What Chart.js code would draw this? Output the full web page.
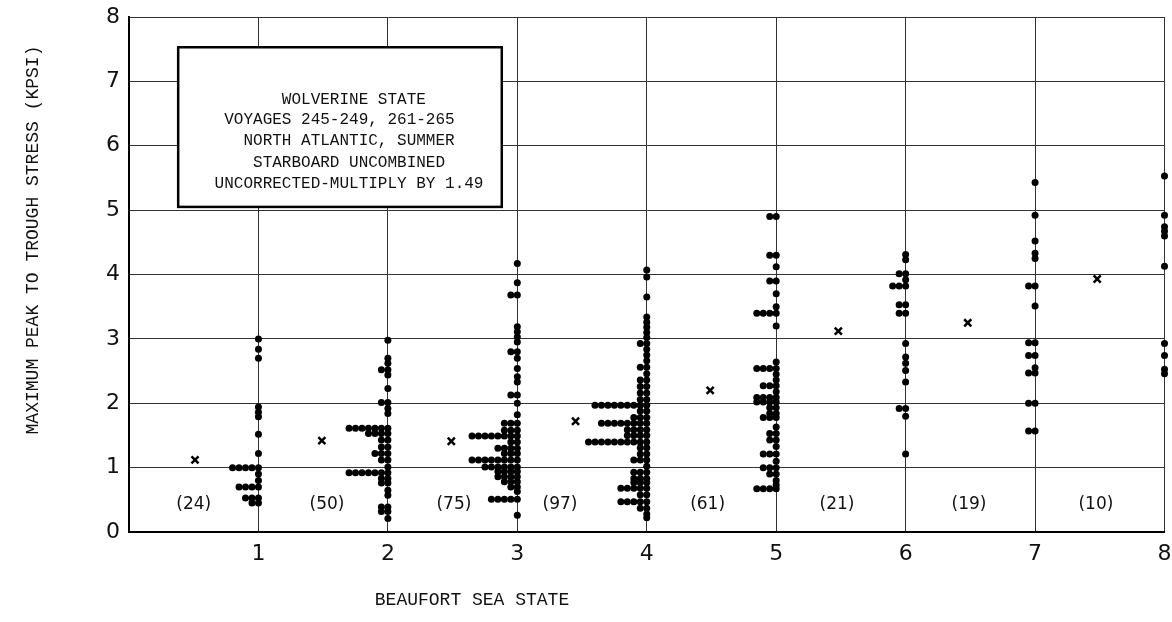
<!DOCTYPE html>
<html><head><meta charset="utf-8">
<script src="https://cdn.jsdelivr.net/npm/chart.js@4.4.1/dist/chart.umd.min.js"></script>
<style>html,body{margin:0;padding:0;background:#fff;}#wrap{width:1172px;height:622px;}</style>
</head><body><div id="wrap"><canvas id="c" width="1172" height="622"></canvas></div>
<script>
// ---- data ----
const seaStates = [1, 2, 3, 4, 5, 6, 7, 8];
const sampleCounts = [24, 50, 75, 97, 61, 21, 19, 10];

const state1Stress = [3.0, 2.84, 2.7, 1.94, 1.86, 1.79, 1.52, 1.22, 1.0, 0.9, 0.8, 0.7, 0.53, 0.45];
const state1Count  = [1, 1, 1, 1, 1, 1, 1, 1, 5, 1, 1, 4, 3, 2];

const state2Stress = [2.98, 2.70, 2.62, 2.52, 2.44, 2.23, 2.01, 1.92, 1.84, 1.61, 1.53, 1.43, 1.32, 1.22, 1.12, 1.01, 0.92, 0.83, 0.76, 0.65, 0.57, 0.39, 0.32, 0.21];
const state2Count  = [1, 1, 1, 2, 1, 1, 2, 1, 1, 7, 4, 2, 2, 3, 2, 1, 7, 2, 2, 1, 1, 2, 2, 1];

const state3Stress = [4.17, 3.87, 3.68, 3.19, 3.11, 3.03, 2.95, 2.80, 2.70, 2.54, 2.41, 2.33, 2.13, 2.0, 1.82, 1.69, 1.58, 1.49, 1.40, 1.30, 1.22, 1.12, 1.01, 0.94, 0.86, 0.78, 0.70, 0.63, 0.51, 0.26];
const state3Count  = [1, 1, 2, 1, 1, 1, 1, 2, 1, 1, 1, 1, 2, 1, 1, 3, 3, 8, 2, 4, 3, 8, 6, 4, 4, 3, 2, 1, 5, 1];

const state4Stress = [4.07, 3.96, 3.65, 3.34, 3.26, 3.18, 3.10, 3.02, 2.93, 2.84, 2.75, 2.66, 2.56, 2.46, 2.36, 2.26, 2.16, 2.06, 1.97, 1.88, 1.78, 1.69, 1.59, 1.50, 1.40, 1.31, 1.21, 1.12, 1.02, 0.93, 0.83, 0.77, 0.68, 0.58, 0.47, 0.37, 0.28, 0.22];
const state4Count  = [1, 1, 1, 1, 1, 1, 1, 1, 2, 1, 1, 1, 2, 1, 2, 2, 2, 2, 9, 2, 3, 8, 4, 4, 10, 2, 2, 3, 1, 3, 3, 3, 5, 2, 5, 2, 1, 1];

const state5Stress = [4.9, 4.3, 4.12, 3.9, 3.7, 3.5, 3.4, 3.2, 2.64, 2.54, 2.45, 2.36, 2.27, 2.18, 2.09, 2.02, 1.93, 1.84, 1.78, 1.63, 1.53, 1.43, 1.33, 1.21, 1.1, 1.0, 0.9, 0.8, 0.73, 0.67];
const state5Count  = [2, 2, 1, 2, 1, 1, 4, 1, 1, 4, 1, 1, 3, 1, 4, 4, 2, 2, 3, 1, 2, 2, 1, 3, 1, 3, 2, 1, 1, 4];

const state6Stress = [4.31, 4.23, 4.01, 3.92, 3.82, 3.53, 3.40, 2.93, 2.72, 2.62, 2.51, 2.33, 1.92, 1.80, 1.21];
const state6Count  = [1, 1, 2, 1, 3, 2, 2, 1, 1, 1, 1, 1, 2, 1, 1];

const state7Stress = [5.43, 4.92, 4.52, 4.33, 4.25, 3.82, 3.51, 2.94, 2.74, 2.55, 2.47, 2.0, 1.57];
const state7Count  = [1, 1, 1, 1, 1, 2, 1, 2, 2, 1, 2, 2, 2];

const state8Stress = [5.53, 4.92, 4.74, 4.67, 4.60, 4.13, 2.93, 2.74, 2.53, 2.46];
const state8Count  = [1, 1, 1, 1, 1, 1, 1, 1, 1, 1];

const meanX      = [0.51, 1.49, 2.49, 3.45, 4.49, 5.48, 6.48, 7.48];
const meanStress = [1.12, 1.42, 1.41, 1.72, 2.20, 3.12, 3.25, 3.93];

const countLabelX = [0.50, 1.53, 2.51, 3.33, 4.47, 5.47, 6.49, 7.47];
const countLabelY = 0.42;

const xTickValues = [0, 1, 2, 3, 4, 5, 6, 7, 8];
const yTickValues = [0, 1, 2, 3, 4, 5, 6, 7, 8];

const boxLines = ['WOLVERINE STATE', 'VOYAGES 245-249, 261-265', 'NORTH ATLANTIC, SUMMER', 'STARBOARD UNCOMBINED', 'UNCORRECTED-MULTIPLY BY 1.49'];
const xTitle = 'BEAUFORT SEA STATE';
const yTitle = 'MAXIMUM PEAK TO TROUGH STRESS (KPSI)';

// ---- layout constants ----
const DOT_STEP = 0.05;                 // horizontal stacking step (x units)
const BOX = {x0: 0.38, x1: 2.88, y0: 5.05, y1: 7.53};
const BOX_LINE_Y = [6.72, 6.40, 6.07, 5.74, 5.41];
const BOX_LINE_COL = [7, 1, 3, 4, 0];
const BOX_CENTER_X = 1.70;

const stressLists = [state1Stress, state2Stress, state3Stress, state4Stress, state5Stress, state6Stress, state7Stress, state8Stress];
const countLists  = [state1Count, state2Count, state3Count, state4Count, state5Count, state6Count, state7Count, state8Count];

const dotPoints = [];
seaStates.forEach((s, i) => {
  stressLists[i].forEach((v, j) => {
    for (let k = 0; k < countLists[i][j]; k++) dotPoints.push({x: s - k * DOT_STEP, y: v});
  });
});
const meanPoints = meanX.map((x, i) => ({x, y: meanStress[i]}));

const TEXT = '#111';
const overlay = {
  id: 'overlay',
  afterDatasetsDraw(chart) {
    const {ctx, scales: {x, y}} = chart;
    ctx.save();
    // sample counts
    ctx.fillStyle = TEXT;
    ctx.font = '17px "DejaVu Sans"';
    ctx.textAlign = 'center';
    ctx.textBaseline = 'middle';
    sampleCounts.forEach((n, i) => {
      ctx.fillText('(' + n + ')', x.getPixelForValue(countLabelX[i]), y.getPixelForValue(countLabelY));
    });
    // annotation box
    const bx0 = x.getPixelForValue(BOX.x0), bx1 = x.getPixelForValue(BOX.x1);
    const by0 = y.getPixelForValue(BOX.y1), by1 = y.getPixelForValue(BOX.y0);
    ctx.fillStyle = '#fff';
    ctx.fillRect(bx0, by0, bx1 - bx0, by1 - by0);
    ctx.lineWidth = 2.5;
    ctx.strokeStyle = '#000';
    ctx.strokeRect(bx0, by0, bx1 - bx0, by1 - by0);
    ctx.fillStyle = TEXT;
    ctx.font = '16px "Liberation Mono"';
    ctx.textAlign = 'left';
    const cw = ctx.measureText('M').width;
    const startX = x.getPixelForValue(BOX_CENTER_X) - 14 * cw;
    boxLines.forEach((t, i) => {
      ctx.fillText(t, startX + BOX_LINE_COL[i] * cw, y.getPixelForValue(BOX_LINE_Y[i]));
    });
    // axis titles
    ctx.font = '18px "Liberation Mono"';
    ctx.textAlign = 'center';
    ctx.fillText(xTitle, 472, 600);
    ctx.translate(33, 240);
    ctx.rotate(-Math.PI / 2);
    ctx.fillText(yTitle, 0, 0);
    ctx.restore();
  }
};

new Chart(document.getElementById('c'), {
  type: 'scatter',
  data: {
    datasets: [
      {data: dotPoints, pointRadius: 3.5, pointBackgroundColor: '#000', pointBorderWidth: 0, showLine: false, clip: false},
      {data: meanPoints, pointStyle: 'crossRot', pointRadius: 5, pointBorderColor: '#000', pointBorderWidth: 2.5, showLine: false, clip: false}
    ]
  },
  options: {
    responsive: false,
    animation: false,
    devicePixelRatio: 1,
    layout: {padding: {top: 17, right: 5, left: 0, bottom: 0}},
    plugins: {legend: {display: false}, tooltip: {enabled: false}},
    scales: {
      x: {
        type: 'linear', min: 0, max: 8,
        afterFit: s => { s.height = 90; s.paddingLeft = 0; s.paddingRight = 0; },
        afterBuildTicks: s => { s.ticks = xTickValues.map(v => ({value: v})); },
        ticks: {color: TEXT, font: {family: 'DejaVu Sans', size: 22}, padding: 9,
                callback: v => v === 0 ? '' : String(v), maxRotation: 0},
        grid: {color: '#333', lineWidth: 1, drawTicks: false},
        border: {display: true, color: '#000', width: 2}
      },
      y: {
        type: 'linear', min: 0, max: 8,
        afterFit: s => { s.width = 129; s.paddingTop = 0; s.paddingBottom = 0; },
        afterBuildTicks: s => { s.ticks = yTickValues.map(v => ({value: v})); },
        ticks: {color: TEXT, font: {family: 'DejaVu Sans', size: 22}, padding: 9, callback: v => String(v)},
        grid: {color: '#333', lineWidth: 1, drawTicks: false},
        border: {display: true, color: '#000', width: 2}
      }
    }
  },
  plugins: [overlay]
});
</script></body></html>
